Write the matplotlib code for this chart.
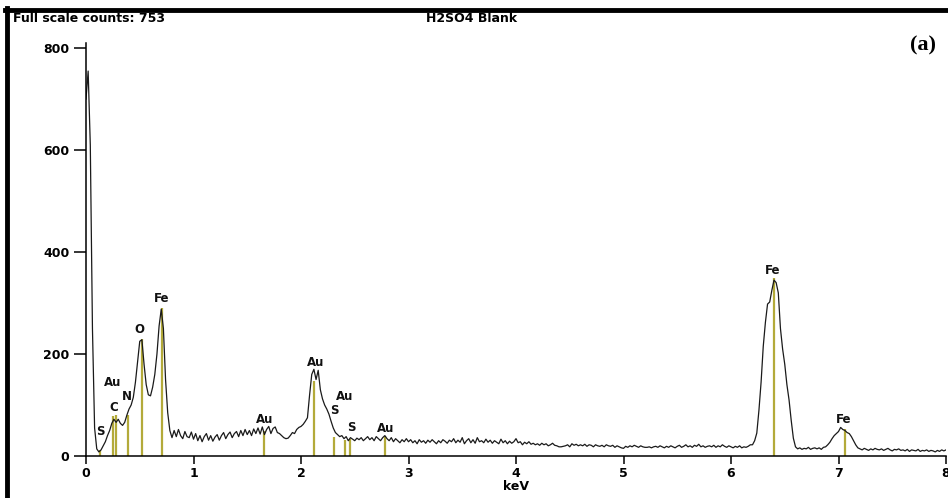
import matplotlib.pyplot as plt
import numpy as np
from matplotlib.lines import Line2D

# EDS spectrum, channel width 0.02 keV (0.00 ... 8.00 keV)
energy = np.arange(0, 401) * 0.02
counts = [
    700, 755, 610, 250, 55, 14, 8, 12, 20, 28,
    40, 50, 64, 72, 66, 72, 64, 60, 66, 80,
    92, 100, 115, 145, 185, 225, 228, 180, 140, 120,
    118, 135, 160, 200, 255, 288, 250, 150, 85, 50,
    36, 50, 38, 52, 40, 34, 48, 38, 36, 47,
    33, 44, 30, 40, 28, 38, 44, 31, 40, 29,
    37, 42, 31, 40, 46, 34, 42, 47, 36, 44,
    48, 38, 50, 40, 52, 42, 50, 40, 53, 44,
    55, 43, 57, 42, 52, 58, 44, 54, 57, 46,
    44, 40, 36, 34, 35, 40, 46, 44, 52, 56,
    58, 62, 68, 75, 120, 160, 170, 150, 168, 130,
    112, 100, 92, 82, 68, 55, 46, 42, 38, 40,
    34, 38, 30, 36, 33, 30, 35, 32, 36, 30,
    34, 38, 32, 36, 30, 38, 34, 30, 36, 40,
    34, 30, 36, 28, 34, 30, 26, 32, 28, 34,
    28, 32, 26, 30, 24, 32, 27, 30, 25, 31,
    27, 32, 28, 24, 30, 26, 32, 29, 25, 31,
    28, 34, 26, 31, 27, 36, 24, 30, 34, 26,
    32, 25, 36, 28, 30, 26, 33, 27, 31, 25,
    30, 27, 24, 33, 26, 30, 24, 29, 25, 28,
    34, 26, 28, 22, 27, 24, 28, 23, 25, 22,
    24, 21, 25, 22, 24, 20, 22, 25, 21, 20,
    18, 18, 19, 20, 22, 18, 24, 21, 23, 20,
    22, 20, 23, 19, 22, 21, 18, 22, 20, 19,
    21, 18, 22, 20, 19, 21, 17, 20, 18, 16,
    15, 19, 17, 20, 18, 21, 19, 17, 20, 18,
    17, 17, 18, 16, 18, 19, 17, 20, 18, 16,
    19, 17, 20, 18, 16, 19, 21, 17, 19, 22,
    18, 20, 17, 21, 19, 23, 18, 20, 17, 19,
    20, 18, 21, 17, 20, 18, 22, 19, 17, 20,
    18, 16, 19, 17, 20, 16, 18, 17, 19, 22,
    22, 30, 45, 90, 145, 215, 262, 298, 302, 325,
    345, 340, 320, 250, 210, 180, 140, 110, 70, 35,
    18, 14, 16, 13, 15, 14, 17, 13, 15, 16,
    14, 16, 13, 17, 18, 22, 27, 34, 40, 44,
    48, 56, 52, 50, 46, 44, 38, 30, 22, 16,
    14, 12, 15, 13, 11, 14, 12, 15, 13, 12,
    14, 11, 13, 15, 12, 10, 13, 12, 14, 11,
    12, 10, 13, 9, 12, 11, 10, 13, 9, 11,
    10, 12, 9, 11, 10, 8, 11, 9, 12, 10,
    12,
]

# element marker lines (keV, height)
line_e = [0.13, 0.25, 0.277, 0.39, 0.52, 0.705, 1.66, 2.12, 2.31, 2.41, 2.46, 2.78, 6.40, 7.06]
line_h = [12, 78, 80, 80, 230, 290, 49, 148, 38, 32, 34, 40, 350, 52]

# element labels (text, keV, counts)
lab_txt = ["S", "Au", "C", "N", "O", "Fe", "Au", "Au", "Au", "S", "S", "Au", "Fe", "Fe"]
lab_e = [0.13, 0.25, 0.26, 0.38, 0.50, 0.70, 1.66, 2.14, 2.41, 2.31, 2.47, 2.79, 6.39, 7.05]
lab_y = [48, 144, 95, 117, 248, 309, 72, 183, 117, 89, 56, 54, 364, 72]

plt.rcParams['font.family'] = ['DejaVu Sans']

fig = plt.figure(figsize=(9.48, 4.98), dpi=100)
ax = fig.add_axes([86 / 948, 42 / 498, 860 / 948, 413 / 498])

ax.vlines(line_e, 0, line_h, colors='#b3aa3a', lw=1.6, zorder=1)
ax.plot(energy, counts, color='#1a1a1a', lw=0.9, zorder=2)

for t, x, y in zip(lab_txt, lab_e, lab_y):
    ax.text(x, y, t, ha='center', va='center', fontsize=8.5, fontweight='bold', color='#111111')

ax.set_xlim(0, 8.0)
ax.set_ylim(0, 810)
ax.set_xticks(range(0, 9))
ax.set_yticks([0, 200, 400, 600, 800])
ax.spines['top'].set_visible(False)
ax.spines['right'].set_visible(False)
ax.spines['left'].set_linewidth(1.1)
ax.spines['bottom'].set_linewidth(1.1)
ax.tick_params(axis='y', length=9, width=1.1, labelsize=9, pad=3)
ax.tick_params(axis='x', length=6, width=1.1, labelsize=9, pad=2)
for lab in ax.get_xticklabels() + ax.get_yticklabels():
    lab.set_fontweight('bold')
ax.set_xlabel('keV', fontsize=9, fontweight='bold', labelpad=0)

fig.text(13 / 948, 1 - 19 / 498, 'Full scale counts: 753', ha='left', va='center',
         fontsize=9, fontweight='bold')
fig.text(472 / 948, 1 - 19 / 498, 'H2SO4 Blank', ha='center', va='center',
         fontsize=9, fontweight='bold')
fig.text(923 / 948, 1 - 45 / 498, '(a)', ha='center', va='center',
         fontsize=16, fontweight='bold', family='Liberation Serif')

# black frame on top and left
fig.add_artist(Line2D([7 / 948, 7 / 948], [0, 1 - 8 / 498], color='black', lw=3.5,
                      transform=fig.transFigure))
fig.add_artist(Line2D([5 / 948, 1], [1 - 10 / 498, 1 - 10 / 498], color='black', lw=3.5,
                      transform=fig.transFigure))

fig.savefig('out.png', dpi=100)
